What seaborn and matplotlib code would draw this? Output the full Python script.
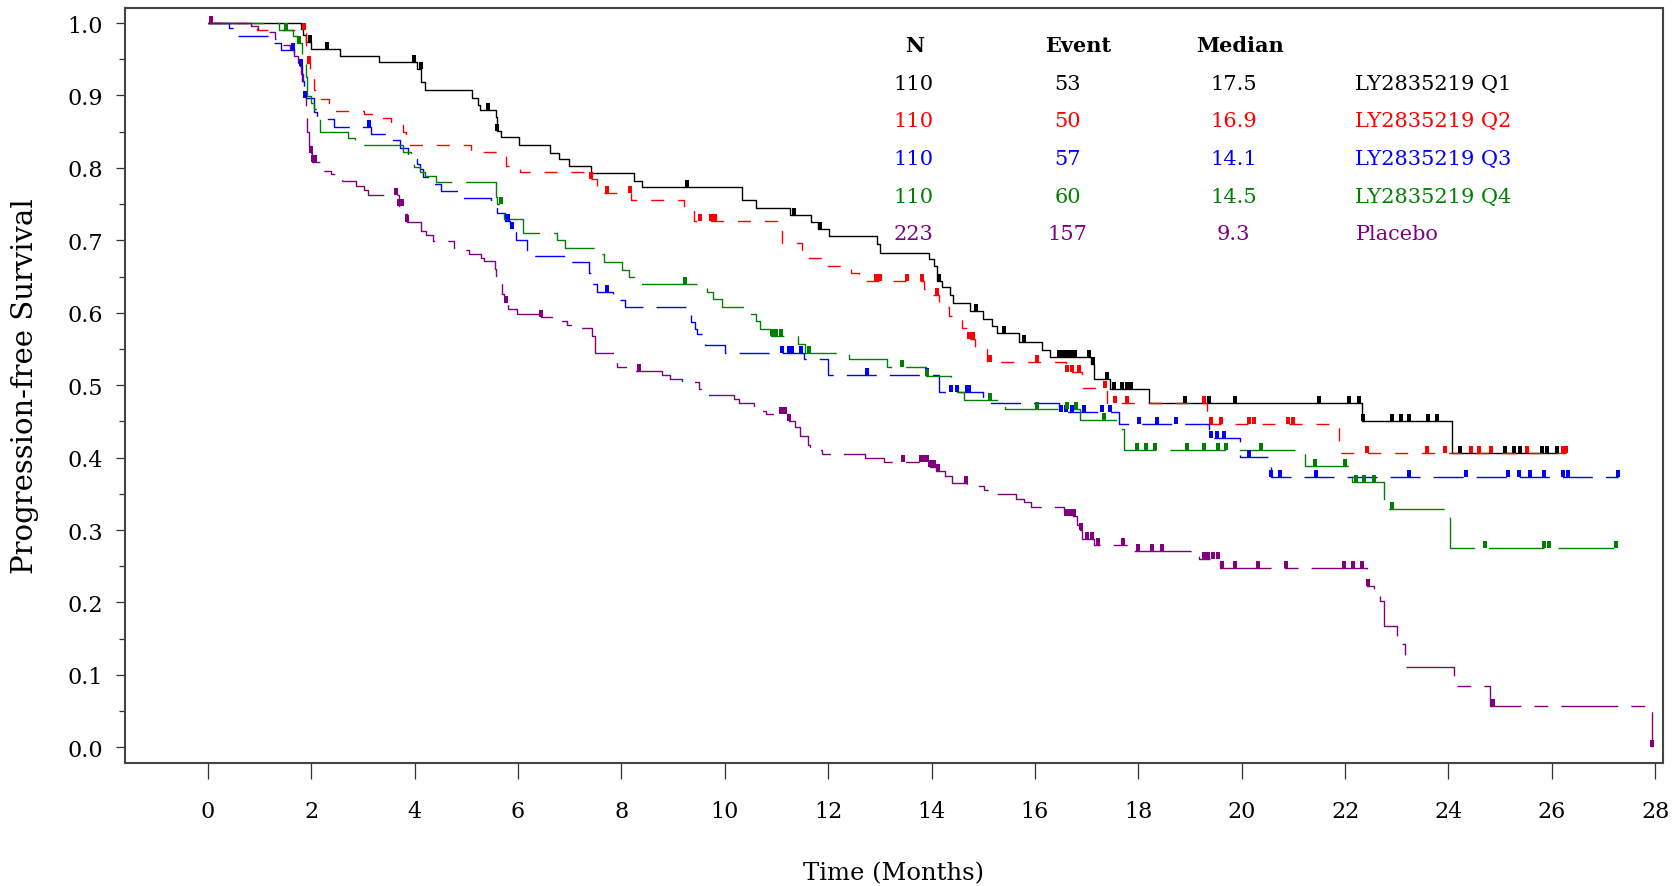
import numpy as np
import pandas as pd
import matplotlib
matplotlib.use("Agg")
import matplotlib.pyplot as plt
import seaborn as sns
from matplotlib.path import Path

# ---------------- data ----------------
groups = ["LY2835219 Q1", "LY2835219 Q2", "LY2835219 Q3", "LY2835219 Q4", "Placebo"]
n_pat = ["110", "110", "110", "110", "223"]
n_event = ["53", "50", "57", "60", "157"]
medians = ["17.5", "16.9", "14.1", "14.5", "9.3"]

q1_t = [0, 1.80, 1.85, 1.90, 2.00, 2.55, 3.31, 4.04, 4.13, 4.20, 5.12, 5.22, 5.26, 5.57, 5.60,
        5.67, 6.03, 6.62, 6.80, 6.98, 7.41, 8.24, 8.40, 10.34, 10.60, 11.27, 11.66, 11.80, 12.02, 12.94,
        13.00, 13.95, 14.05, 14.10, 14.20, 14.35, 14.41, 14.74, 15.00, 15.17, 15.27, 15.70, 16.14, 16.29, 17.09,
        17.15, 17.46, 18.20, 22.32, 24.07]
q1_s = [1.0, 0.992, 0.983, 0.974, 0.964, 0.954, 0.946, 0.936, 0.918, 0.908, 0.897, 0.887, 0.880, 0.870, 0.851,
        0.842, 0.832, 0.821, 0.812, 0.803, 0.793, 0.782, 0.773, 0.755, 0.745, 0.735, 0.725, 0.716, 0.706, 0.695,
        0.683, 0.674, 0.665, 0.644, 0.635, 0.624, 0.614, 0.603, 0.592, 0.582, 0.572, 0.560, 0.549, 0.539, 0.529,
        0.509, 0.495, 0.476, 0.450, 0.406]
q1_c = [1.98, 2.31, 3.99, 4.12, 5.43, 5.60, 9.28, 11.34, 11.84, 14.14, 14.87, 15.40, 15.79, 16.46, 16.53,
        16.58, 16.65, 16.72, 16.78, 17.04, 17.13, 17.39, 17.53, 17.69, 17.78, 17.85, 18.91, 19.36, 19.88, 21.49,
        22.07, 22.26, 22.34, 22.91, 23.08, 23.24, 23.60, 23.77, 24.23, 25.10, 25.26, 25.38, 25.81, 25.90, 26.10]

q2_t = [0, 0.96, 1.90, 1.93, 1.97, 2.05, 2.20, 2.35, 3.03, 3.25, 3.54, 3.78, 3.83, 5.10, 5.76,
        6.05, 7.40, 7.53, 8.18, 9.21, 9.40, 11.02, 11.11, 11.50, 11.98, 12.45, 12.60, 13.86, 13.92, 14.15,
        14.34, 14.40, 14.59, 14.72, 14.85, 15.08, 16.61, 16.91, 17.40, 19.33, 21.89]
q2_s = [1.0, 0.991, 0.965, 0.945, 0.926, 0.907, 0.895, 0.879, 0.874, 0.869, 0.861, 0.850, 0.832, 0.822, 0.803,
        0.795, 0.785, 0.766, 0.756, 0.746, 0.727, 0.716, 0.696, 0.676, 0.665, 0.655, 0.644, 0.633, 0.624, 0.608,
        0.596, 0.592, 0.579, 0.564, 0.550, 0.532, 0.518, 0.496, 0.476, 0.446, 0.407]
q2_c = [1.86, 1.95, 7.42, 7.73, 8.17, 9.53, 9.73, 9.82, 12.92, 13.00, 13.53, 13.82, 14.10, 14.72, 14.80,
        15.14, 16.04, 16.63, 16.72, 16.85, 17.35, 17.55, 17.78, 19.27, 19.40, 19.60, 20.14, 20.24, 20.90, 21.00,
        22.43, 23.59, 23.94, 24.43, 24.59, 24.83, 25.52, 26.22, 26.28]

q3_t = [0, 0.41, 0.51, 1.17, 1.41, 1.67, 1.78, 1.82, 1.86, 2.06, 2.12, 2.44, 3.15, 3.57, 3.71,
        3.87, 3.94, 4.04, 4.10, 4.16, 4.35, 4.51, 4.89, 5.47, 5.60, 5.75, 5.85, 5.96, 6.18, 6.92,
        7.37, 7.45, 7.53, 7.83, 8.08, 9.34, 9.43, 9.47, 9.61, 10.00, 11.53, 12.00, 14.14, 15.00, 16.46,
        17.62, 19.37, 19.97, 20.56]
q3_s = [1.0, 0.993, 0.982, 0.973, 0.963, 0.953, 0.940, 0.920, 0.896, 0.877, 0.867, 0.857, 0.847, 0.838, 0.828,
        0.818, 0.812, 0.806, 0.799, 0.787, 0.778, 0.768, 0.758, 0.748, 0.738, 0.727, 0.716, 0.700, 0.679, 0.670,
        0.655, 0.640, 0.629, 0.618, 0.608, 0.587, 0.578, 0.571, 0.555, 0.545, 0.536, 0.514, 0.490, 0.476, 0.463,
        0.447, 0.427, 0.401, 0.373]
q3_c = [1.64, 1.80, 1.88, 3.11, 5.80, 5.89, 7.73, 11.11, 11.24, 11.30, 11.47, 12.75, 13.92, 14.37, 14.50,
        14.69, 14.72, 16.50, 16.60, 16.72, 16.94, 17.30, 17.45, 18.01, 18.37, 18.72, 19.40, 19.52, 19.65, 20.14,
        20.56, 20.75, 21.43, 23.23, 24.33, 25.15, 25.37, 25.57, 25.84, 26.21, 26.31, 27.28]

q4_t = [0, 1.38, 1.64, 1.72, 1.82, 1.90, 1.93, 2.00, 2.06, 2.12, 2.18, 2.71, 2.85, 3.77, 3.93,
        3.99, 4.10, 4.20, 4.41, 5.57, 5.60, 5.73, 6.10, 6.76, 6.92, 7.47, 7.66, 8.02, 8.15, 8.34,
        9.65, 9.78, 9.95, 10.49, 10.60, 10.69, 10.89, 11.42, 11.55, 12.40, 13.14, 13.89, 14.37, 14.50, 14.63,
        15.43, 16.87, 17.67, 17.72, 21.23, 22.14, 22.75, 24.03]
q4_s = [1.0, 0.991, 0.982, 0.972, 0.953, 0.925, 0.899, 0.890, 0.881, 0.867, 0.850, 0.841, 0.831, 0.822, 0.812,
        0.801, 0.795, 0.789, 0.781, 0.760, 0.750, 0.729, 0.710, 0.701, 0.690, 0.681, 0.670, 0.659, 0.649, 0.640,
        0.629, 0.619, 0.608, 0.598, 0.588, 0.578, 0.568, 0.557, 0.545, 0.536, 0.525, 0.513, 0.504, 0.491, 0.479,
        0.467, 0.452, 0.440, 0.411, 0.389, 0.366, 0.329, 0.275]
q4_c = [1.51, 1.77, 5.67, 9.24, 10.92, 11.00, 11.08, 11.63, 13.43, 13.92, 15.14, 16.04, 16.63, 16.80, 17.33,
        17.97, 18.15, 18.32, 18.94, 19.27, 19.55, 19.70, 20.38, 21.41, 22.00, 22.21, 22.36, 22.56, 22.91, 24.70,
        25.84, 25.94, 27.24]

pl_t = [0, 0.83, 0.98, 1.02, 1.30, 1.44, 1.60, 1.67, 1.75, 1.80, 1.85, 1.90, 1.93, 1.96, 1.99,
        2.02, 2.25, 2.38, 2.60, 2.86, 3.03, 3.10, 3.70, 3.78, 3.86, 4.13, 4.22, 4.35, 4.77, 5.06,
        5.28, 5.35, 5.55, 5.58, 5.65, 5.70, 5.73, 5.80, 5.99, 6.44, 6.86, 6.95, 7.21, 7.44, 7.50,
        7.86, 7.92, 8.15, 8.79, 8.95, 9.18, 9.50, 9.60, 10.18, 10.28, 10.56, 10.79, 11.24, 11.35, 11.45,
        11.61, 11.65, 11.89, 12.72, 13.08, 13.98, 14.08, 14.27, 14.40, 14.69, 15.01, 15.17, 15.63, 15.79, 15.92,
        16.56, 16.82, 16.87, 16.91, 17.14, 17.85, 19.17, 19.58, 22.43, 22.55, 22.67, 22.75, 23.00, 23.15, 24.10,
        24.80, 27.93]
pl_s = [1.0, 0.996, 0.991, 0.987, 0.978, 0.969, 0.964, 0.955, 0.945, 0.930, 0.900, 0.870, 0.850, 0.830, 0.820,
        0.808, 0.796, 0.791, 0.782, 0.775, 0.769, 0.762, 0.748, 0.736, 0.725, 0.713, 0.707, 0.699, 0.687, 0.681,
        0.675, 0.671, 0.660, 0.651, 0.640, 0.626, 0.614, 0.605, 0.598, 0.594, 0.589, 0.583, 0.579, 0.568, 0.544,
        0.532, 0.525, 0.519, 0.514, 0.509, 0.504, 0.495, 0.486, 0.481, 0.475, 0.465, 0.460, 0.450, 0.442, 0.430,
        0.418, 0.411, 0.405, 0.400, 0.394, 0.387, 0.382, 0.375, 0.365, 0.361, 0.355, 0.350, 0.343, 0.338, 0.332,
        0.320, 0.307, 0.300, 0.288, 0.279, 0.271, 0.260, 0.248, 0.222, 0.210, 0.202, 0.167, 0.143, 0.111, 0.084,
        0.057, 0.0]
pl_c = [0.06, 1.99, 2.03, 2.07, 3.64, 3.70, 3.76, 3.86, 5.76, 6.45, 8.35, 11.08, 11.16, 11.24, 13.45,
        13.79, 13.86, 13.92, 13.98, 14.05, 14.12, 14.67, 16.60, 16.68, 16.76, 16.90, 17.00, 17.10, 17.22, 17.71,
        18.00, 18.26, 18.46, 19.27, 19.35, 19.45, 19.55, 19.62, 19.88, 20.32, 20.85, 21.97, 22.15, 22.33, 22.44,
        24.86, 27.93]

x_ticks = list(range(0, 29, 2))
y_ticks = [0.0, 0.1, 0.2, 0.3, 0.4, 0.5, 0.6, 0.7, 0.8, 0.9, 1.0]

# ---------------- style ----------------
colors = ["#000000", "#FF0000", "#0000FF", "#008000", "#800080"]
dash_patterns = [None, (9.4, 10.0), (21.6, 9.4), (40.0, 10.0), (41.0, 9.4, 10.0, 9.4)]

sns.set_theme(style="white")
plt.rcParams["font.family"] = ["DejaVu Serif", "DejaVu Sans"]
plt.rcParams["lines.scale_dashes"] = False

fig = plt.figure(figsize=(16.81, 8.87), dpi=100)
ax = fig.add_axes([0.07436, 0.13867, 0.91493, 0.85163])

censor_marker = Path([(-0.25, 0.0), (0.25, 0.0), (0.25, 1.0), (-0.25, 1.0), (-0.25, 0.0)],
                     [Path.MOVETO, Path.LINETO, Path.LINETO, Path.LINETO, Path.CLOSEPOLY])

all_t = [q1_t, q2_t, q3_t, q4_t, pl_t]
all_s = [q1_s, q2_s, q3_s, q4_s, pl_s]
all_c = [q1_c, q2_c, q3_c, q4_c, pl_c]

for name, t, s, c, col, dash in zip(groups, all_t, all_s, all_c, colors, dash_patterns):
    t = np.asarray(t, dtype=float)
    s = np.asarray(s, dtype=float)
    c = np.asarray(c, dtype=float)
    t_end = max(c.max(), t.max())
    df = pd.DataFrame({"time": np.append(t, t_end), "surv": np.append(s, s[-1])})
    sns.lineplot(data=df, x="time", y="surv", ax=ax, color=col, linewidth=1.0,
                 drawstyle="steps-post", estimator=None, sort=False, zorder=2)
    line = ax.lines[-1]
    if dash is not None:
        line.set_dashes(dash)
        line.set_dash_capstyle("butt")
    cy = s[np.searchsorted(t, c, side="right") - 1]
    sns.scatterplot(x=c, y=cy, ax=ax, marker=censor_marker, s=100, color=col,
                    edgecolor=col, linewidth=0, zorder=3)

# ---------------- axes ----------------
ax.set_xlim(-1.600, 28.149)
ax.set_ylim(-0.0217, 1.0213)
ax.set_xticks(x_ticks)
ax.set_xticklabels([str(v) for v in x_ticks])
ax.set_yticks(y_ticks)
ax.set_yticklabels([f"{v:.1f}" for v in y_ticks])
ax.set_yticks(np.arange(0.05, 1.0, 0.1), minor=True)

ax.tick_params(axis="x", which="major", bottom=True, direction="out", length=11.5, width=0.9,
               color="#333333", pad=15, labelsize=16, labelcolor="black")
ax.tick_params(axis="y", which="major", left=True, direction="out", length=6.5, width=0.9,
               color="#333333", pad=9.5, labelsize=16, labelcolor="black")
ax.tick_params(axis="y", which="minor", left=True, direction="out", length=4, width=0.9,
               color="#333333")

for sp in ax.spines.values():
    sp.set_visible(True)
    sp.set_color("#444444")
    sp.set_linewidth(1.5)

ax.set_xlabel("Time (Months)", fontsize=17.5, color="black", va="center", ha="center")
ax.xaxis.set_label_coords(0.5, -0.145)
ax.set_ylabel("Progression-free Survival", fontsize=21, color="black", va="center", ha="center")
ax.yaxis.set_label_coords(-0.0650, 0.5)

# ---------------- summary table ----------------
hdr_y = 0.970
row_y = [0.917, 0.865, 0.813, 0.761, 0.709]
tfs = 15
ax.text(13.68, hdr_y, "N", ha="center", va="center", fontsize=tfs, fontweight="bold", color="black")
ax.text(16.83, hdr_y, "Event", ha="center", va="center", fontsize=tfs, fontweight="bold", color="black")
ax.text(19.96, hdr_y, "Median", ha="center", va="center", fontsize=tfs, fontweight="bold", color="black")
for i, col in enumerate(colors):
    ax.text(13.66, row_y[i], n_pat[i], ha="center", va="center", fontsize=tfs, color=col)
    ax.text(16.63, row_y[i], n_event[i], ha="center", va="center", fontsize=tfs, color=col)
    ax.text(19.84, row_y[i], medians[i], ha="center", va="center", fontsize=tfs, color=col)
    ax.text(22.20, row_y[i], groups[i], ha="left", va="center", fontsize=tfs, color=col)

fig.savefig("out.png", dpi=100)
